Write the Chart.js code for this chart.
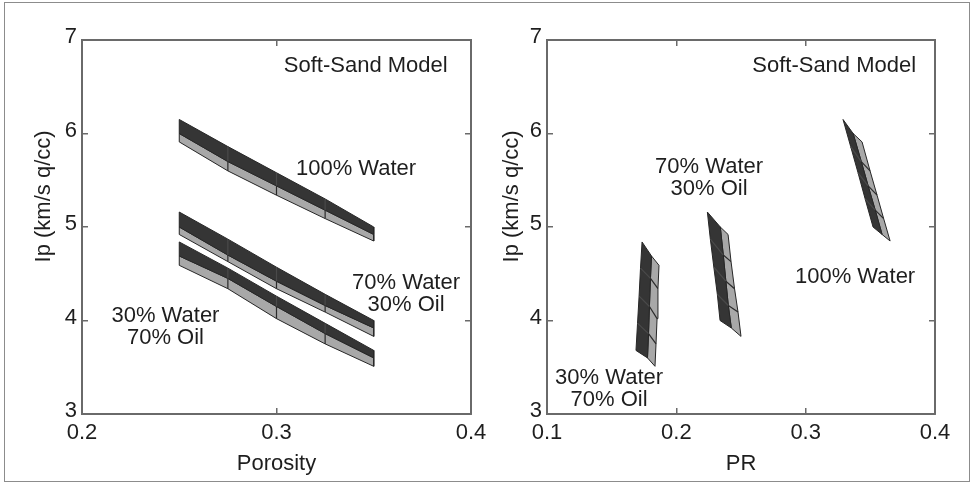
<!DOCTYPE html>
<html><head><meta charset="utf-8">
<script src="https://cdn.jsdelivr.net/npm/chart.js@4/dist/chart.umd.min.js"></script>
<style>
html,body{margin:0;padding:0;background:#fff;}
#wrap{position:relative;width:972px;height:484px;overflow:hidden;background:#fff;}
#frame{position:absolute;left:4px;top:2px;width:966px;height:480px;box-sizing:border-box;border:1.5px solid #8c8c8c;}
canvas{position:absolute;top:0;}
#c1{left:0;}
#c2{left:486px;}
</style></head><body>
<div id="wrap"><div id="frame"></div>
<canvas id="c1" width="486" height="484"></canvas>
<canvas id="c2" width="486" height="484"></canvas></div>
<script>
// ---- data ----
const porosity = [0.25, 0.275, 0.3, 0.325, 0.35];

const ipWater100Top = [6.15, 5.86, 5.58, 5.30, 5.00];
const ipWater100Mid = [6.00, 5.70, 5.44, 5.18, 4.92];
const ipWater100Bot = [5.91, 5.60, 5.34, 5.09, 4.85];

const ipWater70Top = [5.16, 4.87, 4.57, 4.28, 4.00];
const ipWater70Mid = [5.00, 4.70, 4.42, 4.16, 3.92];
const ipWater70Bot = [4.92, 4.63, 4.34, 4.09, 3.83];

const ipWater30Top = [4.84, 4.56, 4.26, 3.97, 3.68];
const ipWater30Mid = [4.69, 4.45, 4.15, 3.86, 3.60];
const ipWater30Bot = [4.59, 4.34, 4.02, 3.75, 3.51];

const prWater100Top = [0.3289, 0.3348, 0.3405, 0.3460, 0.3521];
const prWater100Mid = [0.3367, 0.3430, 0.3483, 0.3538, 0.3591];
const prWater100Bot = [0.3436, 0.3498, 0.3552, 0.3603, 0.3653];

const prWater70Top = [0.2240, 0.2263, 0.2290, 0.2317, 0.2338];
const prWater70Mid = [0.2340, 0.2363, 0.2383, 0.2402, 0.2425];
const prWater70Bot = [0.2400, 0.2423, 0.2450, 0.2477, 0.2500];

const prWater30Top = [0.1735, 0.1723, 0.1712, 0.1700, 0.1688];
const prWater30Mid = [0.1808, 0.1800, 0.1792, 0.1785, 0.1777];
const prWater30Bot = [0.1866, 0.1858, 0.1851, 0.1843, 0.1835];

const ipTicks = [3, 4, 5, 6, 7];
const porosityTicks = [0.2, 0.3, 0.4];
const prTicks = [0.1, 0.2, 0.3, 0.4];

// ---- styling ----
const FONT = {family: '"Liberation Sans", Arial, Helvetica, sans-serif', size: 22};
const TXT = '#1e1e1e';
const AX = '#6a6a6a';
const DARK = '#353535';
const LIGHT = '#a8a8a8';
const EDGE = '#262626';

function pts(xs, ys) { return xs.map((x, i) => ({x: x, y: ys[i]})); }
function polygon(xa, ya, xb, yb) {
  const a = pts(xa, ya), b = pts(xb, yb).reverse();
  return a.concat(b, [a[0]]);
}
function surf(data, color) {
  return {data: data, showLine: true, fill: 'shape', backgroundColor: color, order: 2,
          borderColor: EDGE, borderWidth: 1, pointRadius: 0, tension: 0};
}
function seg(data, color) {
  return {data: data, showLine: true, fill: false, borderColor: color, order: 0,
          borderWidth: 1.2, pointRadius: 0, tension: 0};
}
function bandSets(xTop, yTop, xMid, yMid, xBot, yBot) {
  const sets = [surf(polygon(xTop, yTop, xMid, yMid), DARK),
                surf(polygon(xMid, yMid, xBot, yBot), LIGHT)];
  for (let i = 1; i < xTop.length - 1; i++) {
    sets.push(seg([{x: xMid[i], y: yMid[i]}, {x: xBot[i], y: yBot[i]}], '#2a2a2a'));
    sets.push(seg([{x: xTop[i], y: yTop[i]}, {x: xMid[i], y: yMid[i]}], '#4a4a4a'));
  }
  return sets;
}

function axisScales(xMin, xMax, xTicks, xTitle, yTitlePad, yWidth) {
  const setTicks = arr => s => { s.ticks = arr.map(v => ({value: v})); };
  const gridIn = {drawOnChartArea: false, drawTicks: true, tickLength: -6, color: AX, lineWidth: 1.5};
  const border = {display: true, color: AX, width: 2};
  return {
    x: {type: 'linear', position: 'bottom', min: xMin, max: xMax,
        afterBuildTicks: setTicks(xTicks),
        ticks: {callback: v => v.toFixed(1), font: FONT, color: TXT, padding: 12, autoSkip: false, maxRotation: 0},
        grid: gridIn, border: border,
        title: {display: true, text: xTitle, font: FONT, color: TXT, padding: {top: 0, bottom: 7}},
        afterFit: s => { s.height = 70; s.paddingLeft = 0; s.paddingRight = 0; }},
    x2: {type: 'linear', position: 'top', min: xMin, max: xMax,
        afterBuildTicks: setTicks(xTicks),
        ticks: {display: false}, grid: gridIn, border: border,
        afterFit: s => { s.height = 0; s.paddingLeft = 0; s.paddingRight = 0; }},
    y: {type: 'linear', position: 'left', min: 3, max: 7,
        afterBuildTicks: setTicks(ipTicks),
        ticks: {callback: v => String(v), font: FONT, color: TXT, padding: 11, labelOffset: -3},
        grid: gridIn, border: border,
        title: {display: true, text: '          Ip (km/s q/cc)', font: FONT, color: TXT, padding: {top: yTitlePad, bottom: 0}},
        afterFit: s => { s.width = yWidth; s.paddingTop = 0; s.paddingBottom = 0; }},
    y2: {type: 'linear', position: 'right', min: 3, max: 7,
        afterBuildTicks: setTicks(ipTicks),
        ticks: {display: false}, grid: gridIn, border: border,
        afterFit: s => { s.width = 0; s.paddingTop = 0; s.paddingBottom = 0; }}
  };
}

const textPlugin = {
  id: 'textLabels',
  afterDatasetsDraw(chart, args, opts) {
    const ctx = chart.ctx, xs = chart.scales.x, ys = chart.scales.y;
    ctx.save();
    ctx.font = FONT.size + 'px ' + FONT.family;
    ctx.fillStyle = TXT;
    ctx.textBaseline = 'middle';
    (opts.items || []).forEach(it => {
      ctx.textAlign = it.align || 'center';
      it.lines.forEach((ln, k) => {
        ctx.fillText(ln, xs.getPixelForValue(it.x), ys.getPixelForValue(it.y) + k * 22);
      });
    });
    ctx.restore();
  }
};

function makeChart(id, datasets, scales, padRight, items) {
  return new Chart(document.getElementById(id), {
    type: 'scatter',
    data: {datasets: datasets},
    options: {
      responsive: false, animation: false, devicePixelRatio: 1,
      layout: {padding: {left: 0, top: 40, right: padRight, bottom: 0}},
      scales: scales,
      plugins: {legend: {display: false}, tooltip: {enabled: false}, textLabels: {items: items}}
    },
    plugins: [textPlugin]
  });
}

// left: Porosity vs Ip
const leftSets = [].concat(
  bandSets(porosity, ipWater100Top, porosity, ipWater100Mid, porosity, ipWater100Bot),
  bandSets(porosity, ipWater70Top, porosity, ipWater70Mid, porosity, ipWater70Bot),
  bandSets(porosity, ipWater30Top, porosity, ipWater30Mid, porosity, ipWater30Bot)
);
makeChart('c1', leftSets, axisScales(0.2, 0.4, porosityTicks, 'Porosity', 31, 82), 15, [
  {x: 0.388, y: 6.72, align: 'right', lines: ['Soft-Sand Model']},
  {x: 0.3409, y: 5.62, lines: ['100% Water']},
  {x: 0.3666, y: 4.406, lines: ['70% Water', '30% Oil']},
  {x: 0.2429, y: 4.048, lines: ['30% Water', '70% Oil']}
]);

// right: PR vs Ip
const rightSets = [].concat(
  bandSets(prWater100Top, ipWater100Top, prWater100Mid, ipWater100Mid, prWater100Bot, ipWater100Bot),
  bandSets(prWater70Top, ipWater70Top, prWater70Mid, ipWater70Mid, prWater70Bot, ipWater70Bot),
  bandSets(prWater30Top, ipWater30Top, prWater30Mid, ipWater30Mid, prWater30Bot, ipWater30Bot)
);
makeChart('c2', rightSets, axisScales(0.1, 0.4, prTicks, 'PR', 13, 61), 37, [
  {x: 0.3854, y: 6.72, align: 'right', lines: ['Soft-Sand Model']},
  {x: 0.2253, y: 5.642, lines: ['70% Water', '30% Oil']},
  {x: 0.3382, y: 4.465, lines: ['100% Water']},
  {x: 0.148, y: 3.385, lines: ['30% Water', '70% Oil']}
]);
</script>
</body></html>
